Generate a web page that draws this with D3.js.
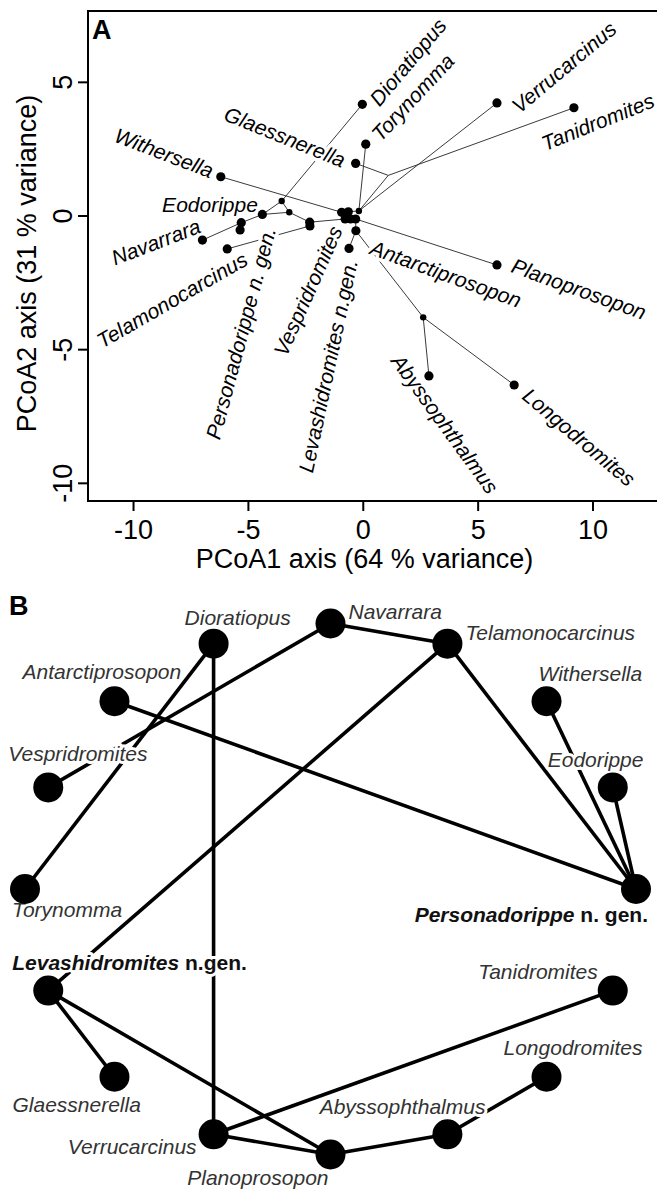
<!DOCTYPE html>
<html>
<head>
<meta charset="utf-8">
<script src="https://cdn.jsdelivr.net/npm/d3@7"></script>
<style>
  html, body { margin: 0; padding: 0; background: #fff; }
  svg { display: block; font-family: "Liberation Sans", Arial, Helvetica, sans-serif; }
</style>
</head>
<body>
<div id="chart"></div>
<script>
// --------------- Data ---------------
// Panel A: PCoA scores of tips and reconstructed nodes (phylomorphospace)
const PCOA_NAMES = [
  "Dioratiopus", "Torynomma", "Glaessnerella", "Verrucarcinus", "Tanidromites",
  "Planoprosopon", "Withersella", "Navarrara", "Telamonocarcinus", "Eodorippe",
  "Abyssophthalmus", "Longodromites", "Personadorippe", "Vespridromites",
  "Levashidromites", "Antarctiprosopon",
  "n16", "n17", "n18", "n19", "n20", "n21", "n22", "n23", "n24", "n25", "n26", "n27"
];
const PCOA1 = [
  -0.02, 0.13, -0.31, 5.84, 9.19,
  5.84, -6.18, -6.98, -5.90, -4.37,
  2.88, 6.59, -5.34, -0.77,
  -0.60, -0.30,
  -5.29, -2.31, -2.30, -0.92, -0.63, -0.53, -0.31, -0.17, -3.53, -3.20, 2.63, 1.11
];
const PCOA2 = [
  4.16, 2.67, 1.95, 4.21, 4.03,
  -1.85, 1.45, -0.92, -1.25, 0.04,
  -6.00, -6.34, -0.54, -0.13,
  -1.23, -0.57,
  -0.27, -0.25, -0.39, 0.12, 0.14, -0.13, -0.13, 0.17, 0.54, 0.12, -3.81, 1.50
];
// "tip" = full dot, "node" = small dot, "branch" = bend without dot
const PCOA_KIND = [
  "tip", "tip", "tip", "tip", "tip", "tip", "tip", "tip", "tip", "tip",
  "tip", "tip", "tip", "tip", "tip", "tip",
  "tip", "tip", "tip", "tip", "tip", "tip", "tip", "node", "node", "node", "node", "branch"
];
const PCOA_EDGES = [
  [0, 24], [24, 9], [9, 16], [16, 7], [16, 12], [24, 25], [9, 25],
  [25, 17], [17, 13], [8, 18], [17, 18], [6, 19], [22, 5],
  [1, 23], [3, 23], [27, 23], [27, 2], [27, 4],
  [15, 26], [26, 10], [26, 11], [15, 14],
  [19, 20], [20, 23], [13, 21], [21, 22], [22, 15]
];
const X_TICKS = [-10, -5, 0, 5, 10];
const Y_TICKS = [-10, -5, 0, 5];

// Panel A label texts
const PCOA_LABELS = [
  "Dioratiopus", "Torynomma", "Verrucarcinus", "Tanidromites", "Glaessnerella",
  "Withersella", "Eodorippe", "Navarrara", "Telamonocarcinus",
  "Personadorippe n. gen.", "Vespridromites", "Levashidromites n.gen.",
  "Antarctiprosopon", "Planoprosopon", "Abyssophthalmus", "Longodromites"
];

// Panel B: network, taxa in circular order (clockwise from top)
const NET_TAXA = [
  "Navarrara", "Telamonocarcinus", "Withersella", "Eodorippe", "Personadorippe",
  "Tanidromites", "Longodromites", "Abyssophthalmus", "Planoprosopon", "Verrucarcinus",
  "Glaessnerella", "Levashidromites", "Torynomma", "Vespridromites",
  "Antarctiprosopon", "Dioratiopus"
];
const NET_EDGES = [
  ["Dioratiopus", "Verrucarcinus"], ["Dioratiopus", "Torynomma"],
  ["Navarrara", "Vespridromites"], ["Navarrara", "Telamonocarcinus"],
  ["Telamonocarcinus", "Levashidromites"], ["Telamonocarcinus", "Personadorippe"],
  ["Antarctiprosopon", "Personadorippe"], ["Withersella", "Personadorippe"],
  ["Eodorippe", "Personadorippe"], ["Levashidromites", "Glaessnerella"],
  ["Levashidromites", "Planoprosopon"], ["Verrucarcinus", "Planoprosopon"],
  ["Verrucarcinus", "Tanidromites"], ["Planoprosopon", "Abyssophthalmus"],
  ["Abyssophthalmus", "Longodromites"]
];
const NET_NEW_GENERA = { Personadorippe: " n. gen.", Levashidromites: " n.gen." };

// --------------- Layout ---------------
const WIDTH = 657;
const HEIGHT = 1192;
const FRAME_A = { left: 88, right: 658, top: 11, bottom: 501 };
const X_LIMITS = [-11.96, 12.85];
const Y_LIMITS = [-10.68, 7.65];

// label anchors in data units + rotation (deg)
const LABEL_LAYOUT_A = [
  [1.97, 5.74, -50], [2.18, 4.42, -47], [8.76, 5.55, -40], [10.23, 3.50, -22],
  [-3.39, 2.94, 22], [-8.65, 2.34, 21], [-6.65, 0.41, 0], [-9.00, -0.99, -21],
  [-8.30, -3.16, -30], [-5.30, -4.40, -75], [-2.38, -2.82, -66], [-1.51, -5.63, -78],
  [3.62, -2.19, 20], [9.41, -2.75, 20], [3.58, -7.80, 54], [9.41, -8.29, 40]
];

const NET = { cx: 330.5, cy: 889, rx: 305.5, ry: 265.5, r: 15 };
// label offset from node: [dx, dy, anchor]
const NET_LABEL_OFFSET = {
  Navarrara: [18, -5, "start"],
  Telamonocarcinus: [18, -4, "start"],
  Withersella: [-8, -20, "start"],
  Eodorippe: [-65, -20, "start"],
  Personadorippe: [12, 33, "end"],
  Tanidromites: [-15, -12, "end"],
  Longodromites: [-43, -22, "start"],
  Abyssophthalmus: [38, -20, "end"],
  Planoprosopon: [-2, 30, "end"],
  Verrucarcinus: [-17, 20, "end"],
  Glaessnerella: [-102, 35, "start"],
  Levashidromites: [-36, -21, "start"],
  Torynomma: [-13, 28, "start"],
  Vespridromites: [-40, -26, "start"],
  Antarctiprosopon: [-92, -22, "start"],
  Dioratiopus: [-29, -19, "start"]
};

const svg = d3
  .select("#chart")
  .append("svg")
  .attr("width", WIDTH)
  .attr("height", HEIGHT)
  .attr("viewBox", `0 0 ${WIDTH} ${HEIGHT}`);

function renderPanelA() {
  const X_SCALE = d3.scaleLinear().domain(X_LIMITS).range([FRAME_A.left, FRAME_A.right]);
  const Y_SCALE = d3.scaleLinear().domain(Y_LIMITS).range([FRAME_A.bottom, FRAME_A.top]);

  const g = svg.append("g").attr("id", "panel-a");

  // frame
  g.append("rect")
    .attr("x", FRAME_A.left)
    .attr("y", FRAME_A.top)
    .attr("width", FRAME_A.right - FRAME_A.left)
    .attr("height", FRAME_A.bottom - FRAME_A.top)
    .attr("fill", "none")
    .attr("stroke", "#000")
    .attr("stroke-width", 2);

  // axes
  const gx = g.append("g")
    .attr("transform", `translate(0,${FRAME_A.bottom})`)
    .call(d3.axisBottom(X_SCALE).tickValues(X_TICKS).tickSize(10).tickPadding(9).tickFormat((d) => String(d)));
  gx.select(".domain").remove();

  const gy = g.append("g")
    .attr("transform", `translate(${FRAME_A.left},0)`)
    .call(d3.axisLeft(Y_SCALE).tickValues(Y_TICKS).tickSize(10).tickPadding(6).tickFormat((d) => String(d)));
  gy.select(".domain").remove();
  gy.selectAll(".tick text")
    .attr("transform", "rotate(-90)")
    .attr("x", 0)
    .attr("y", -16)
    .attr("dy", null)
    .attr("text-anchor", "middle");

  [gx, gy].forEach((ax) => {
    ax.attr("font-size", 27).attr("font-family", null);
    ax.selectAll(".tick line").attr("stroke", "#000").attr("stroke-width", 2);
    ax.selectAll(".tick text").attr("fill", "#000");
  });

  g.append("text")
    .attr("x", 364.5)
    .attr("y", 568)
    .attr("text-anchor", "middle")
    .attr("font-size", 27)
    .text("PCoA1 axis (64 % variance)");

  g.append("text")
    .attr("transform", "translate(36,263.5) rotate(-90)")
    .attr("text-anchor", "middle")
    .attr("font-size", 27)
    .text("PCoA2 axis (31 % variance)");

  g.append("text")
    .attr("x", 92)
    .attr("y", 39)
    .attr("font-size", 27)
    .attr("font-weight", "bold")
    .text("A");

  // tree branches
  g.append("g")
    .selectAll("line")
    .data(PCOA_EDGES)
    .join("line")
    .attr("x1", ([a]) => X_SCALE(PCOA1[a]))
    .attr("y1", ([a]) => Y_SCALE(PCOA2[a]))
    .attr("x2", ([, b]) => X_SCALE(PCOA1[b]))
    .attr("y2", ([, b]) => Y_SCALE(PCOA2[b]))
    .attr("stroke", "#3a3a3a")
    .attr("stroke-width", 1);

  // labels (white halo breaks the branches like in the original)
  g.append("g")
    .selectAll("text")
    .data(PCOA_LABELS)
    .join("text")
    .attr("transform", (d, i) => {
      const [lx, ly, rot] = LABEL_LAYOUT_A[i];
      return `translate(${X_SCALE(lx)},${Y_SCALE(ly)}) rotate(${rot})`;
    })
    .attr("text-anchor", "middle")
    .attr("dy", "0.35em")
    .attr("font-size", 21)
    .attr("font-style", "italic")
    .attr("fill", "#000")
    .attr("stroke", "#fff")
    .attr("stroke-width", 7)
    .attr("stroke-linejoin", "round")
    .attr("paint-order", "stroke")
    .text((d) => d);

  // dots
  const radius = { tip: 4.6, node: 3.2, branch: 0 };
  g.append("g")
    .selectAll("circle")
    .data(PCOA_NAMES.map((name, i) => ({ name, x: PCOA1[i], y: PCOA2[i], kind: PCOA_KIND[i] })))
    .join("circle")
    .attr("cx", (d) => X_SCALE(d.x))
    .attr("cy", (d) => Y_SCALE(d.y))
    .attr("r", (d) => radius[d.kind])
    .attr("fill", "#000");
}

function renderPanelB() {
  const angle = d3.scaleLinear().domain([0, NET_TAXA.length]).range([0, 2 * Math.PI]);
  const pos = new Map(
    NET_TAXA.map((name, i) => [
      name,
      { x: NET.cx + NET.rx * Math.sin(angle(i)), y: NET.cy - NET.ry * Math.cos(angle(i)) }
    ])
  );

  const g = svg.append("g").attr("id", "panel-b");

  g.append("text")
    .attr("x", 9)
    .attr("y", 615)
    .attr("font-size", 27)
    .attr("font-weight", "bold")
    .text("B");

  g.append("g")
    .selectAll("line")
    .data(NET_EDGES)
    .join("line")
    .attr("x1", ([a]) => pos.get(a).x)
    .attr("y1", ([a]) => pos.get(a).y)
    .attr("x2", ([, b]) => pos.get(b).x)
    .attr("y2", ([, b]) => pos.get(b).y)
    .attr("stroke", "#000")
    .attr("stroke-width", 3.6);

  const labels = g.append("g")
    .selectAll("text")
    .data(NET_TAXA)
    .join("text")
    .attr("x", (d) => pos.get(d).x + NET_LABEL_OFFSET[d][0])
    .attr("y", (d) => pos.get(d).y + NET_LABEL_OFFSET[d][1])
    .attr("text-anchor", (d) => NET_LABEL_OFFSET[d][2])
    .attr("font-size", 21)
    .attr("stroke", "#fff")
    .attr("stroke-width", 6)
    .attr("stroke-linejoin", "round")
    .attr("paint-order", "stroke");

  labels.each(function (d) {
    const t = d3.select(this);
    if (NET_NEW_GENERA[d]) {
      t.attr("fill", "#111").attr("font-weight", "bold");
      t.append("tspan").attr("font-style", "italic").text(d);
      t.append("tspan").text(NET_NEW_GENERA[d]);
    } else {
      t.attr("fill", "#333").attr("font-style", "italic").text(d);
    }
  });

  g.append("g")
    .selectAll("circle")
    .data(NET_TAXA)
    .join("circle")
    .attr("cx", (d) => pos.get(d).x)
    .attr("cy", (d) => pos.get(d).y)
    .attr("r", NET.r)
    .attr("fill", "#000");
}

renderPanelA();
renderPanelB();
</script>
</body>
</html>
